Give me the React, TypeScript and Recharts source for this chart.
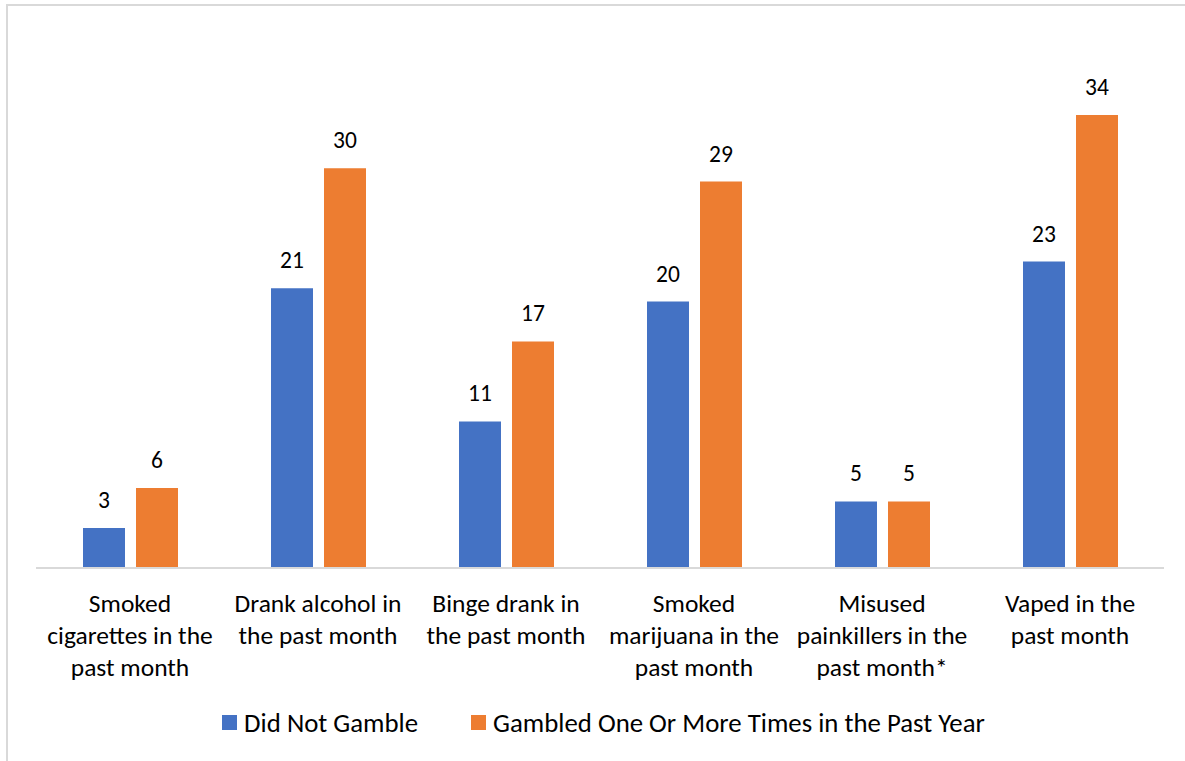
import React from 'react';
import { BarChart, Bar, XAxis, YAxis, Legend, LabelList } from 'recharts';

const categories = [
  'Smoked\ncigarettes in the\npast month',
  'Drank alcohol in\nthe past month',
  'Binge drank in\nthe past month',
  'Smoked\nmarijuana in the\npast month',
  'Misused\npainkillers in the\npast month*',
  'Vaped in the\npast month',
];
const didNotGamble = [3, 21, 11, 20, 5, 23];
const gambled = [6, 30, 17, 29, 5, 34];
const seriesNames = ['Did Not Gamble', 'Gambled One Or More Times in the Past Year'];
const seriesColors = ['#4472C4', '#ED7D31'];

const data = categories.map((category, i) => ({
  category,
  notGamble: didNotGamble[i],
  gambled: gambled[i],
}));

const FONT = 'Carlito, Lato, sans-serif';

const CategoryTick = (props: any) => {
  const { x, y, payload } = props;
  const lines = String(payload.value).split('\n');
  return (
    <g transform={`translate(${x},${y})`}>
      {lines.map((line: string, i: number) => (
        <text
          key={i}
          x={0}
          y={44 + i * 32}
          textAnchor="middle"
          fill="#000"
          fontSize={25.5}
          fontFamily={FONT}
        >
          {line}
        </text>
      ))}
    </g>
  );
};

const LegendContent = () => (
  <div
    style={{
      display: 'flex',
      justifyContent: 'center',
      alignItems: 'center',
      fontFamily: FONT,
      fontSize: 26.8,
      color: '#000',
    }}
  >
    {seriesNames.map((name, i) => (
      <div key={name} style={{ display: 'flex', alignItems: 'center', marginLeft: i === 0 ? 0 : 53 }}>
        <span style={{ width: 15, height: 15, background: seriesColors[i], marginRight: 7, display: 'inline-block' }} />
        <span>{name}</span>
      </div>
    ))}
  </div>
);

export default function App() {
  return (
    <div style={{ position: 'fixed', left: 0, top: 0, width: 1185, height: 761, overflow: 'hidden', background: '#fff' }}>
      <div
        style={{
          position: 'absolute',
          left: 6,
          top: 4,
          width: 1200,
          height: 800,
          border: '2px solid #d9d9d9',
        }}
      />
      <div style={{ position: 'absolute', left: 0, top: 0 }}>
        <BarChart
          width={1185}
          height={761}
          data={data}
          margin={{ top: 35, right: 21, left: 36, bottom: 0 }}
          barSize={42}
          barGap={11}
        >
          <XAxis
            dataKey="category"
            tickLine={false}
            tickSize={0}
            tickMargin={0}
            axisLine={{ stroke: '#d9d9d9', strokeWidth: 2 }}
            tick={<CategoryTick />}
            interval={0}
            height={193}
          />
          <YAxis hide domain={[0, 40]} />
          <Legend
            layout="horizontal"
            verticalAlign="middle"
            align="center"
            content={<LegendContent />}
            wrapperStyle={{ top: 706, left: 11, width: 1185 }}
          />
          <Bar dataKey="notGamble" name={seriesNames[0]} fill={seriesColors[0]} isAnimationActive={false}>
            <LabelList dataKey="notGamble" position="top" offset={20} fill="#000" fontSize={23.5} fontFamily={FONT} />
          </Bar>
          <Bar dataKey="gambled" name={seriesNames[1]} fill={seriesColors[1]} isAnimationActive={false}>
            <LabelList dataKey="gambled" position="top" offset={20} fill="#000" fontSize={23.5} fontFamily={FONT} />
          </Bar>
        </BarChart>
      </div>
    </div>
  );
}
